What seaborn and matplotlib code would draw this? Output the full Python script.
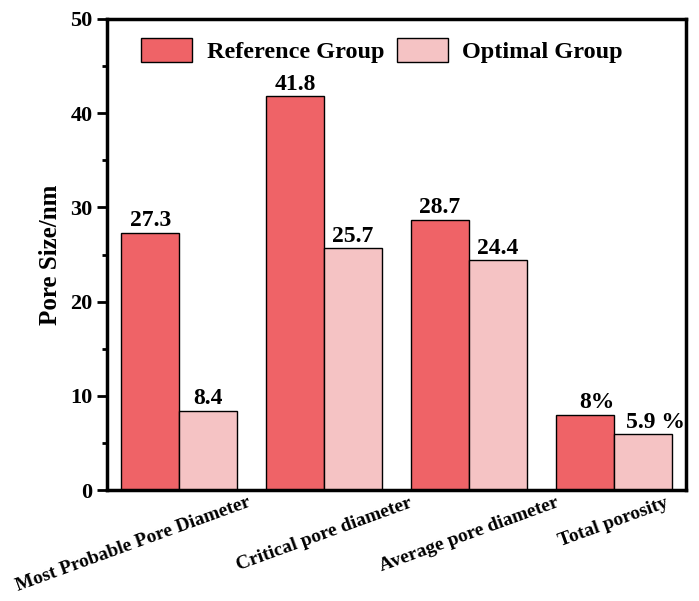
import numpy as np
import pandas as pd
import matplotlib
matplotlib.use("Agg")
import matplotlib.pyplot as plt
import matplotlib.transforms as mtransforms
from matplotlib.ticker import MultipleLocator
import seaborn as sns

# data
categories = ["Most Probable Pore Diameter", "Critical pore diameter",
              "Average pore diameter", "Total porosity"]
reference_vals = [27.3, 41.8, 28.7, 8.0]
optimal_vals = [8.4, 25.7, 24.4, 5.9]
reference_labels = ["27.3", "41.8", "28.7", "8%"]
optimal_labels = ["8.4", "25.7", "24.4", "5.9 %"]
groups = ["Reference Group", "Optimal Group"]
colors = ["#EF6367", "#F5C3C4"]

df = pd.DataFrame({
    "category": categories * 2,
    "value": reference_vals + optimal_vals,
    "group": [groups[0]] * 4 + [groups[1]] * 4,
})

sns.set_theme(style="ticks")
plt.rcParams["font.family"] = ["Liberation Serif", "DejaVu Serif"]
plt.rcParams["font.weight"] = "bold"
for k in ["text.color", "axes.labelcolor", "xtick.color", "ytick.color", "axes.edgecolor"]:
    plt.rcParams[k] = "black"

fig = plt.figure(figsize=(6.99, 6.01), dpi=100)
ax = fig.add_axes([107 / 699, 1 - 490 / 601, (686 - 107) / 699, (490 - 19) / 601])

sns.barplot(data=df, x="category", y="value", hue="group", palette=colors,
            width=0.8, edgecolor="black", linewidth=1.0, saturation=1, ax=ax)

for cont, labs in zip(ax.containers, [reference_labels, optimal_labels]):
    anns = ax.bar_label(cont, labels=labs, padding=1, fontsize=17, fontweight="bold")
    # percent labels sit a little right of the bar centre, as in the original
    for a, t in zip(anns, labs):
        if t.endswith("%"):
            a.xyann = (9, a.xyann[1])

ax.set_xlim(-0.5, 3.5)
ax.set_ylim(0, 50)
ax.yaxis.set_major_locator(MultipleLocator(10))
ax.yaxis.set_minor_locator(MultipleLocator(5))
ax.tick_params(axis="y", which="major", direction="out", length=7, width=2, labelsize=16)
ax.tick_params(axis="y", which="minor", direction="out", length=3.5, width=2)
ax.tick_params(axis="x", length=0, labelsize=14, pad=3)
ax.set_xlabel("")
ax.set_ylabel("Pore Size/nm", fontsize=18, fontweight="bold", labelpad=6)
for s in ax.spines.values():
    s.set_visible(True)
    s.set_linewidth(2.5)

for i, lab in enumerate(ax.get_xticklabels()):
    lab.set_rotation(20)
    lab.set_ha("center")
    lab.set_fontweight("bold")
    if i == 0:
        lab.set_transform(lab.get_transform() +
                          mtransforms.ScaledTranslation(-0.46, 0, fig.dpi_scale_trans))

ax.legend(loc="upper center", bbox_to_anchor=(0.475, 0.99), ncol=2, frameon=False,
          handlelength=2.1, handleheight=1.1, handletextpad=0.6,
          columnspacing=0.5, borderaxespad=0.2, prop={"weight": "bold", "size": 17.5})

fig.savefig("out.png", dpi=100)
